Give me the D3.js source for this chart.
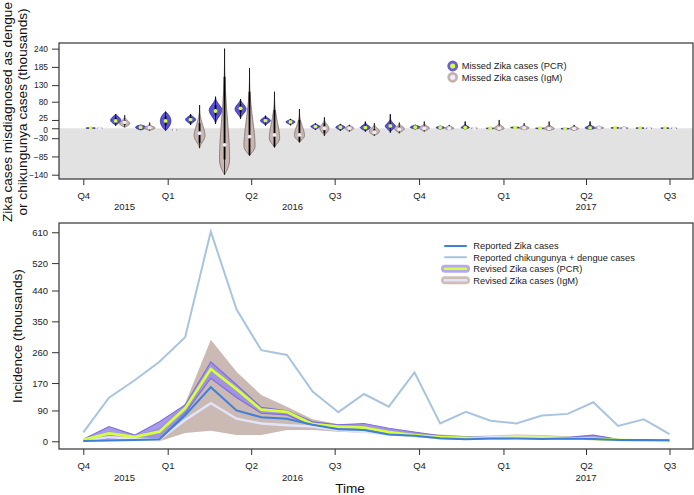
<!DOCTYPE html>
<html><head><meta charset="utf-8">
<script src="https://cdn.jsdelivr.net/npm/d3@7"></script>
<style>body{margin:0;background:#fff}svg{display:block;font-family:"Liberation Sans",Arial,Helvetica,sans-serif}</style>
</head><body><svg id="c" width="694" height="495"></svg>
<script>
// ---- data ----
const periods = ["2015-10-01","2015-10-29","2015-11-26","2015-12-23","2016-01-20","2016-02-17","2016-03-16","2016-04-12","2016-05-10","2016-06-07","2016-07-05","2016-08-02","2016-08-29","2016-09-26","2016-10-24","2016-11-21","2016-12-18","2017-01-15","2017-02-12","2017-03-12","2017-04-09","2017-05-06","2017-06-03","2017-07-01"];
const quarterTicks = ["2015-10-01","2016-01-01","2016-04-01","2016-07-01","2016-10-01","2017-01-01","2017-04-01","2017-07-01"];
const quarterLabels = ["Q4","Q1","Q2","Q3","Q4","Q1","Q2","Q3"];
const yearLabels = ["2015","2016","2017"];
const yearDates = ["2015-11-15","2016-05-16","2017-04-01"];
const topTicks = [240,185,130,80,25,0,-30,-85,-140];
const bottomTicks = [0,90,170,260,350,440,520,610];

// bottom panel series (thousands)
const reported = [1,2,4,6,76,158,90,70,66,48,35,33,20,16,9,6,8,8,7,8,7,4,4,3];
const chikDengue = [26,127,178,232,304,612,385,266,252,145,85,138,101,201,52,86,60,52,75,80,114,45,64,21];
const pcrMed = [4,23,13,28,96,211,152,92,86,50,43,40,27,18,12,10,8,10,10,9,7,4,2,1];
const pcrLo  = [1,9,10,5,82,184,128,82,77,44,38,37,22,14,9,6,7,8,8,7,6,3,2,0];
const pcrHi  = [6,43,18,57,106,232,165,99,89,57,48,52,38,27,16,14,14,13,13,12,18,6,4,3];
const igmMed = [1,12,8,5,62,111,66,52,47,43,33,28,20,15,10,9,12,14,13,10,7,4,2,1];
const igmLo  = [0,2,2,0,24,31,18,18,33,33,28,25,18,13,5,4,5,8,6,5,3,1,0,0];
const igmHi  = [3,25,15,40,110,296,203,135,101,64,50,47,35,25,20,15,17,20,18,15,12,6,4,2];

// top panel violins: [min, q1, median, q3, max, mode, relative density, lower tail, upper tail]
const pcrViolins = [
 [-1,0,0.5,1,2,0.5,0.72,1,1],[8,15,22,32,43,24,0.8,1.5,1.5],[-5,0,3,6,10,3,0.8,1,1],[-7,8,22,36,50,22,0.83,1,1],
 [10,18,26,34,43,26,0.8,2,2],[13,38,52,70,95,55,1,2,2.5],[28,48,60,72,88,58,0.87,2,2],[8,17,23,30,38,23,0.8,2,2],
 [9,15,19,23,28,19,0.72,2,2],[-5,1,5,9,15,5,0.72,2,2],[-8,0,3,7,13,3,0.72,2,2],[-10,-3,2,8,20,2,0.8,2,3],
 [-13,2,7,14,42,7,0.8,2,5],[-3,1,3,5,10,3,0.8,1.5,1.5],[-3,0,2,4,7,2,0.65,1.5,1.5],[-3,0,2,5,20,2,0.65,2,5],
 [-2,-1,0,1,1,0,0.65,1,1],[0,1,2,3,4,2,0.72,1,1],[-2,-1,0,0.5,1,0,0.72,1,1],[-3,-2,-1,0,0,-1,0.65,1,1],
 [-5,-1,1,4,20,1,0.8,2,5],[-1,0,1,2,3,1,0.65,1,1],[-1,0,0.5,1,2,0.5,0.65,1,1],[-1,0,0.5,1,1.5,0.5,0.65,1,1]
];
const igmViolins = [
 [-1,-0.5,0,0.5,1,0,0.4,1,1],[3,10,18,25,39,14,0.8,1.2,3],[-7,-2,2,6,17,1,0.87,1.5,4],[-7,-6,-5,-4,-3,-5,0.4,1,1],
 [-60,-45,-15,15,70,-22,0.86,1.8,3],[-140,-94,-50,155,240,-95,0.8,1.1,2.8],[-83,-80,-25,110,181,-55,0.88,1.4,3],[-58,-55,-20,55,110,-30,0.82,1.5,3],
 [-43,-40,-20,25,58,-22,0.8,1.5,3],[-23,-15,0,15,33,0,0.72,1.5,3],[-10,-5,0,5,10,0,0.67,1.5,1.5],[-23,-15,-12,-3,15,-10,0.8,1.5,2.5],
 [-15,-8,-3,5,17,-1,0.8,1.5,3],[-10,-4,0,5,20,1,0.8,1.5,4],[-5,-2,0,3,10,0,0.72,1.5,2.5],[-1,-0.5,0,0.5,1,0,0.48,1,1],
 [-7,-2,0,3,25,0,0.8,1.5,5],[-5,-1,1,4,15,1,0.8,1.5,4],[-7,-3,-1,2,20,-1,0.8,1.5,4.5],[-7,-3,-1,2,10,-1,0.72,1.5,3],
 [-3,-1,1,3,7,1,0.72,1.5,2],[-2,-1,0,1,5,0,0.65,1.5,2],[-1,0,0,0.5,1,0,0.48,1,1],[-1,0,0,0.5,1,0,0.48,1,1]
];

// ---- layout ----
const L = 59, R = 693;
const top1 = 43, bot1 = 179, top2 = 223, bot2 = 449;
const parse = d3.utcParse("%Y-%m-%d");
const svg = d3.select("#c");
const C = {
  box:"#333", text:"#222", grey:"#e2e2e2",
  pcrFill:"#5c52d8", pcrStroke:"#22229a", pcrDot:"#d4ff3a",
  igmFill:"#c9b6b1", igmStroke:"#85756f", igmDot:"#ececfa",
  rep:"#3d7fd9", chik:"#a9c4de", pcrBand:"#9c8de6", pcrEdge:"#7e6ce0", pcrLine:"#d6ff3c",
  igmBand:"#cbb9b4", igmLine:"#e4e4f8"
};

const x = d3.scaleUtc().domain([parse("2015-10-01"), parse("2017-07-01")]).range([83.3, 669.5]);
const xv = d3.scaleLinear().domain([0, 23]).range([95.2, 669.5]);
const yTop = d3.scaleLinear().domain([-153, 257]).range([bot1, top1]);
const yBot = d3.scaleLinear().domain([-22.5, 637]).range([bot2, top2]);
const wScale = d3.scaleLinear().domain([0, 1]).range([0, 6.3]);

function xAxisFor(yb, yearY){
  const ax = d3.axisBottom(x).tickValues(quarterTicks.map(parse))
    .tickFormat((d,i)=>quarterLabels[i]).tickSize(6).tickPadding(7);
  const a = svg.append("g").attr("transform",`translate(0,${yb})`).call(ax);
  a.select(".domain").remove();
  a.selectAll("line").attr("stroke",C.box);
  a.selectAll("text").attr("font-size",9.5).attr("fill",C.text).attr("font-family","Liberation Sans, Arial, sans-serif");
  svg.append("g").selectAll("text").data(yearLabels).join("text")
    .attr("x",(d,i)=>x(parse(yearDates[i]))).attr("y",yearY)
    .attr("text-anchor","middle").attr("font-size",9.5).attr("fill",C.text).text(d=>d);
}
function yAxisFor(scale, ticks, fs){
  const a = svg.append("g").attr("transform",`translate(${L},0)`)
    .call(d3.axisLeft(scale).tickValues(ticks).tickSize(7).tickPadding(4));
  a.select(".domain").remove();
  a.selectAll("line").attr("stroke",C.box);
  a.selectAll("text").attr("font-size",fs).attr("fill",C.text).attr("font-family","Liberation Sans, Arial, sans-serif");
  return a;
}

// ---- top panel ----
svg.append("rect").attr("x",L).attr("y",yTop(0)).attr("width",R-L).attr("height",bot1-yTop(0)).attr("fill",C.grey);

function violinPts(d){
  const [lo,q1,med,q3,hi,mode,dens,aLo,aHi] = d;
  const N = 60, pts = [];
  for(let k=0;k<=N;k++){
    const v = lo + (hi-lo)*k/N;
    let t, a;
    if (v <= mode){ t = mode>lo ? (mode-v)/(mode-lo) : 0; a = aLo; }
    else { t = hi>mode ? (v-mode)/(hi-mode) : 0; a = aHi; }
    const g = Math.pow(1-t, a)*(1 + a*t);
    pts.push({v, w: wScale(dens*g)});
  }
  return pts;
}
function drawViolins(data, off, fill, stroke, dot){
  const g = svg.append("g");
  data.forEach((d,i)=>{
    const cx = xv(i) + off;
    const area = d3.area().y(p=>yTop(p.v)).x0(p=>cx-p.w).x1(p=>cx+p.w).curve(d3.curveBasis);
    g.append("path").attr("d",area(violinPts(d))).attr("fill",fill).attr("stroke",stroke).attr("stroke-width",0.9);
    g.append("line").attr("x1",cx).attr("x2",cx).attr("y1",yTop(d[0])).attr("y2",yTop(d[4])).attr("stroke","#000").attr("stroke-width",0.8);
    g.append("line").attr("x1",cx).attr("x2",cx).attr("y1",yTop(d[1])).attr("y2",yTop(d[3])).attr("stroke","#000").attr("stroke-width",1.8);
    g.append("circle").attr("cx",cx).attr("cy",yTop(d[2])).attr("r",1.9).attr("fill",dot);
  });
}
drawViolins(pcrViolins, -4.5, C.pcrFill, C.pcrStroke, C.pcrDot);
drawViolins(igmViolins, 4.5, C.igmFill, C.igmStroke, C.igmDot);

svg.append("rect").attr("x",L).attr("y",top1).attr("width",R-L).attr("height",bot1-top1)
  .attr("fill","none").attr("stroke",C.box).attr("stroke-width",1.2);
const ya = yAxisFor(yTop, topTicks, 8.4);
// the 25 and 0 ticks sit very close: nudge their labels apart slightly
ya.selectAll(".tick text").attr("dy", d => d===25 ? "0.12em" : d===0 ? "0.5em" : "0.32em");
xAxisFor(bot1, 210);

// top legend
const tl = svg.append("g");
[["Missed Zika cases (PCR)", "#6a5fd8", C.pcrDot],["Missed Zika cases (IgM)", "#c6b2ad", C.igmDot]].forEach((d,i)=>{
  const yy = 66 + i*11.3;
  tl.append("circle").attr("cx",452.7).attr("cy",yy).attr("r",4).attr("fill",d[2]).attr("stroke",d[1]).attr("stroke-width",2.8);
  tl.append("text").attr("x",461.7).attr("y",yy+3.3).attr("font-size",9.3).attr("fill",C.text).text(d[0]);
});

// ---- bottom panel ----
const dates = periods.map(parse);
const band = (lo,hi)=>d3.area().x((d,i)=>x(dates[i])).y0((d,i)=>yBot(lo[i])).y1((d,i)=>yBot(hi[i]));
const line = arr=>d3.line().x((d,i)=>x(dates[i])).y((d,i)=>yBot(arr[i]));
const g2 = svg.append("g");
g2.append("path").attr("d",band(igmLo,igmHi)(dates)).attr("fill",C.igmBand);
g2.append("path").attr("d",band(pcrLo,pcrHi)(dates)).attr("fill",C.pcrBand).attr("fill-opacity",0.88);
g2.append("path").attr("d",line(pcrHi)(dates)).attr("fill","none").attr("stroke",C.pcrEdge).attr("stroke-width",1.1);
g2.append("path").attr("d",line(pcrLo)(dates)).attr("fill","none").attr("stroke",C.pcrEdge).attr("stroke-width",1.1);
g2.append("path").attr("d",line(igmMed)(dates)).attr("fill","none").attr("stroke",C.igmLine).attr("stroke-width",2.4);
g2.append("path").attr("d",line(pcrMed)(dates)).attr("fill","none").attr("stroke",C.pcrLine).attr("stroke-width",2.8);
g2.append("path").attr("d",line(reported)(dates)).attr("fill","none").attr("stroke",C.rep).attr("stroke-width",2);
g2.append("path").attr("d",line(chikDengue)(dates)).attr("fill","none").attr("stroke",C.chik).attr("stroke-width",2);

svg.append("rect").attr("x",L).attr("y",top2).attr("width",R-L).attr("height",bot2-top2)
  .attr("fill","none").attr("stroke",C.box).attr("stroke-width",1.2);
yAxisFor(yBot, bottomTicks, 9.5);
xAxisFor(bot2, 481);

// bottom legend
const bl = svg.append("g");
const lx0 = 445, lx1 = 466, ly = [246, 257.3, 268.8, 280.2];
const legItems = ["Reported Zika cases","Reported chikungunya + dengue cases","Revised Zika cases (PCR)","Revised Zika cases (IgM)"];
const seg = (yy,c,w)=>bl.append("line").attr("x1",lx0).attr("x2",lx1).attr("y1",yy).attr("y2",yy).attr("stroke",c).attr("stroke-width",w).attr("stroke-linecap","round");
seg(ly[0], C.rep, 2);
seg(ly[1], C.chik, 2);
seg(ly[2], "#b4a9ef", 8); seg(ly[2], C.pcrLine, 2.6);
seg(ly[3], "#cfbdb9", 8); seg(ly[3], C.igmLine, 2.6);
legItems.forEach((t,i)=>bl.append("text").attr("x",473.3).attr("y",ly[i]+3.3).attr("font-size",9.3).attr("fill",C.text).text(t));

// axis titles
svg.append("text").attr("transform","translate(11.5,112) rotate(-90)").attr("text-anchor","middle").attr("font-size",13.6).attr("fill","#111").text("Zika cases misdiagnosed as dengue");
svg.append("text").attr("transform","translate(26.5,112) rotate(-90)").attr("text-anchor","middle").attr("font-size",13.6).attr("fill","#111").text("or chikungunya cases (thousands)");
svg.append("text").attr("transform","translate(21.8,336) rotate(-90)").attr("text-anchor","middle").attr("font-size",13.6).attr("fill","#111").text("Incidence (thousands)");
svg.append("text").attr("x",350).attr("y",493).attr("text-anchor","middle").attr("font-size",13.6).attr("fill","#111").text("Time");
</script></body></html>
